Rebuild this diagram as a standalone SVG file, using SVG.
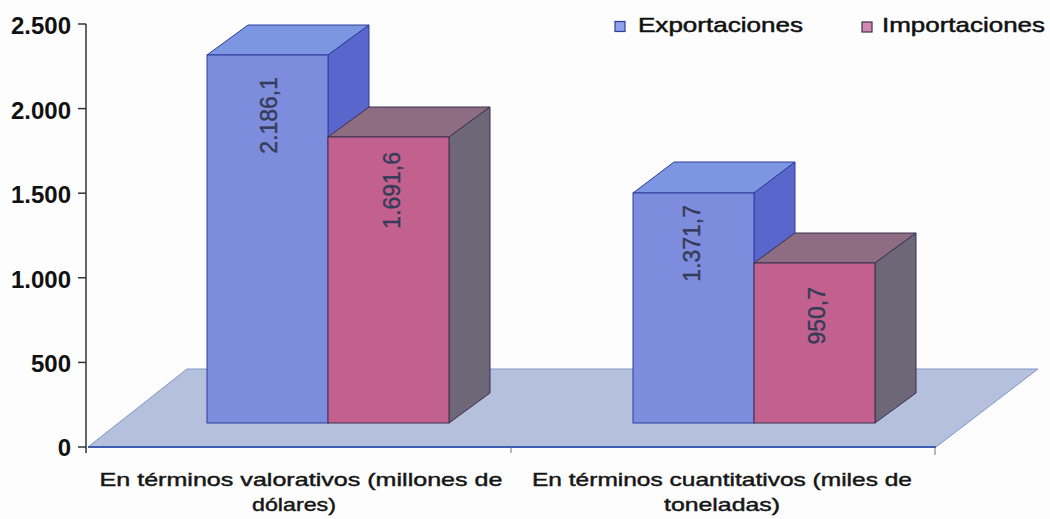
<svg xmlns="http://www.w3.org/2000/svg" width="1050" height="519" viewBox="0 0 1050 519">
<style>
.bg{fill:#fdfdfe}
.floor{fill:#b5c0dc;stroke:#7f95c8;stroke-width:1}
.flooredge{stroke:#3e5cb0;stroke-width:2;fill:none}
.exf{fill:#7d8cdc;stroke:#2c3c9c;stroke-width:1}
.ext{fill:#7c96e2;stroke:#2c3c9c;stroke-width:1}
.exs{fill:#5b66cc;stroke:#2c3c9c;stroke-width:1}
.imf{fill:#c2608e;stroke:#3a3050;stroke-width:1}
.imt{fill:#8e6d83;stroke:#3a3050;stroke-width:1}
.ims{fill:#6d6777;stroke:#3a3050;stroke-width:1}
.axis{stroke:#333;stroke-width:1.5;fill:none}
.tick{font-family:"Liberation Sans",Arial,sans-serif;font-weight:bold;font-size:24px;fill:#111;text-anchor:end}
.val{font-family:"Liberation Sans",Arial,sans-serif;font-size:23px;fill:#363b58;stroke:#363b58;stroke-width:0.4;text-anchor:end}
.cat{font-family:"Liberation Sans",Arial,sans-serif;font-size:19px;fill:#161616;stroke:#161616;stroke-width:0.45;text-anchor:middle}
.leg{font-family:"Liberation Sans",Arial,sans-serif;font-size:21px;fill:#111;stroke:#111;stroke-width:0.5}
</style>
<rect class="bg" x="0" y="0" width="1050" height="519"/>

<g id="floor">
<polygon class="floor" points="88,447 936,447 1038,369 187,369"/>
<line class="flooredge" x1="88" y1="447" x2="936" y2="447"/>
</g>

<g id="axis">
<line class="axis" x1="86" y1="24" x2="86" y2="453"/>
<line class="axis" x1="78" y1="24" x2="86" y2="24"/>
<line class="axis" x1="78" y1="108.6" x2="86" y2="108.6"/>
<line class="axis" x1="78" y1="193.2" x2="86" y2="193.2"/>
<line class="axis" x1="78" y1="277.8" x2="86" y2="277.8"/>
<line class="axis" x1="78" y1="362.4" x2="86" y2="362.4"/>
<line class="axis" x1="78" y1="447" x2="86" y2="447"/>
<line stroke="#777" stroke-width="1" x1="511" y1="447" x2="511" y2="453"/>
<line stroke="#777" stroke-width="1" x1="935" y1="447" x2="935" y2="455"/>
<text class="tick" x="71" y="34">2.500</text>
<text class="tick" x="71" y="118.6">2.000</text>
<text class="tick" x="71" y="203.2">1.500</text>
<text class="tick" x="71" y="287.8">1.000</text>
<text class="tick" x="71" y="372.4">500</text>
<text class="tick" x="71" y="456">0</text>
</g>

<g id="bar-exp-valor">
<polygon class="ext" points="207,55 248,25 369,25 328,55"/>
<polygon class="exs" points="328,55 369,25 369,393 328,423"/>
<rect class="exf" x="207" y="55" width="121" height="368"/>
<text class="val" transform="translate(276.5,77) rotate(-90)">2.186,1</text>
</g>

<g id="bar-imp-valor">
<polygon class="imt" points="328,137 369,107 490,107 449,137"/>
<polygon class="ims" points="449,137 490,107 490,393 449,423"/>
<rect class="imf" x="328" y="137" width="121" height="286"/>
<text class="val" transform="translate(399.5,152) rotate(-90)">1.691,6</text>
</g>

<g id="bar-exp-cuant">
<polygon class="ext" points="633,193 674,162 795,162 754,193"/>
<polygon class="exs" points="754,193 795,162 795,393 754,423"/>
<rect class="exf" x="633" y="193" width="121" height="230"/>
<text class="val" transform="translate(699.5,205) rotate(-90)">1.371,7</text>
</g>

<g id="bar-imp-cuant">
<polygon class="imt" points="754,263 795,233 916,233 875,263"/>
<polygon class="ims" points="875,263 916,233 916,393 875,423"/>
<rect class="imf" x="754" y="263" width="121" height="160"/>
<text class="val" transform="translate(824.5,287) rotate(-90)">950,7</text>
</g>

<g id="categories">
<text class="cat" x="301" y="486" textLength="403" lengthAdjust="spacingAndGlyphs">En términos valorativos (millones de</text>
<text class="cat" x="294" y="511" textLength="84" lengthAdjust="spacingAndGlyphs">dólares)</text>
<text class="cat" x="722" y="486" textLength="380" lengthAdjust="spacingAndGlyphs">En términos cuantitativos (miles de</text>
<text class="cat" x="722" y="511" textLength="116" lengthAdjust="spacingAndGlyphs">toneladas)</text>
</g>

<g id="legend">
<rect x="615" y="21.5" width="10" height="10" fill="#8fa0e6" stroke="#2c3c9c" stroke-width="1.2"/>
<text class="leg" x="638" y="32" textLength="165" lengthAdjust="spacingAndGlyphs">Exportaciones</text>
<rect x="862" y="22" width="10" height="10" fill="#d48ab0" stroke="#3a3050" stroke-width="1.2"/>
<text class="leg" x="882" y="32" textLength="163" lengthAdjust="spacingAndGlyphs">Importaciones</text>
</g>
</svg>
